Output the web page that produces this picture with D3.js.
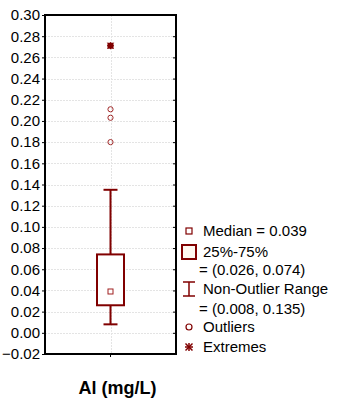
<!DOCTYPE html>
<html><head><meta charset="utf-8">
<script src="https://cdn.jsdelivr.net/npm/d3@7"></script>
<style>body{margin:0;background:#fff}text{font-family:"Liberation Sans",Arial,sans-serif}</style>
</head><body><svg id="c" width="339" height="401"></svg>
<script>
const category = "Al (mg/L)";
const medianVal = [0.039];
const boxRange = [0.026, 0.074];
const whiskerRange = [0.008, 0.135];
const outliers = [0.211, 0.203, 0.180];
const extremes = [0.271];
const yTicks = [-0.02,0,0.02,0.04,0.06,0.08,0.10,0.12,0.14,0.16,0.18,0.20,0.22,0.24,0.26,0.28,0.30];
const legendLines = ["Median = 0.039","25%-75%","= (0.026, 0.074)","Non-Outlier Range","= (0.008, 0.135)","Outliers","Extremes"];

const svg = d3.select("#c");
const L=45, R=176, T=15, B=354;
const col="#800000";
const y = d3.scaleLinear().domain([-0.02,0.30]).range([B,T]);
const x = d3.scaleBand().domain([category]).range([L,R]);
const cx = x(category)+x.bandwidth()/2;

// grid
const g = svg.append("g");
g.selectAll("line.h").data(yTicks).join("line")
 .attr("x1",L).attr("x2",R).attr("y1",d=>Math.round(y(d))+0.5).attr("y2",d=>Math.round(y(d))+0.5)
 .attr("stroke","#e4e4e4").attr("stroke-width",1).attr("stroke-dasharray","2,1");
g.append("line").attr("x1",Math.round(cx)+0.5).attr("x2",Math.round(cx)+0.5).attr("y1",T).attr("y2",B)
 .attr("stroke","#e4e4e4").attr("stroke-dasharray","2,1");

// axes
const ya = svg.append("g").attr("transform",`translate(${L},0)`)
 .call(d3.axisLeft(y).tickValues(yTicks).tickFormat(d3.format(".2f")).tickSize(3).tickPadding(2));
ya.select(".domain").remove();
ya.selectAll("text").attr("font-size",15).attr("fill","#000").attr("font-family","Liberation Sans, Arial, sans-serif");
ya.selectAll("line").attr("stroke","#000");
const yr = svg.append("g").attr("transform",`translate(${R},0)`)
 .call(d3.axisRight(y).tickValues(yTicks).tickFormat("").tickSize(-3));
yr.select(".domain").remove();
yr.selectAll("line").attr("stroke","#000");
const xa = svg.append("g").attr("transform",`translate(0,${B})`)
 .call(d3.axisBottom(x).tickSize(3).tickFormat(""));
xa.select(".domain").remove();
xa.selectAll("line").attr("stroke","#000");
svg.append("rect").attr("x",L).attr("y",T).attr("width",R-L).attr("height",B-T)
 .attr("fill","none").attr("stroke","#000").attr("stroke-width",2);

// box
const bw=27, cw=14;
svg.append("line").attr("x1",cx).attr("x2",cx).attr("y1",y(whiskerRange[1])).attr("y2",y(boxRange[1])).attr("stroke",col).attr("stroke-width",2);
svg.append("line").attr("x1",cx).attr("x2",cx).attr("y1",y(boxRange[0])).attr("y2",y(whiskerRange[0])).attr("stroke",col).attr("stroke-width",2);
svg.selectAll("line.cap").data(whiskerRange).join("line").attr("class","cap")
 .attr("x1",cx-cw/2).attr("x2",cx+cw/2).attr("y1",d=>y(d)).attr("y2",d=>y(d)).attr("stroke",col).attr("stroke-width",2);
svg.append("rect").attr("x",cx-bw/2).attr("y",y(boxRange[1])).attr("width",bw).attr("height",y(boxRange[0])-y(boxRange[1]))
 .attr("fill","#fff").attr("stroke",col).attr("stroke-width",2);
svg.selectAll("rect.med").data(medianVal).join("rect").attr("class","med")
 .attr("x",cx-2.5).attr("y",d=>y(d)-2.5).attr("width",5).attr("height",5).attr("fill","#fff").attr("stroke","#a02020").attr("stroke-width",1);
svg.selectAll("circle.out").data(outliers).join("circle").attr("class","out")
 .attr("cx",cx).attr("cy",d=>y(d)).attr("r",2.6).attr("fill","none").attr("stroke","#a02828").attr("stroke-width",1);
svg.selectAll("g.ext").data(extremes).join("g").attr("class","ext")
 .attr("transform",d=>`translate(${cx},${y(d)})`).each(function(){
   const s=d3.select(this);
   s.append("rect").attr("x",-3).attr("y",-3).attr("width",6).attr("height",6).attr("fill",col);
   [[-3,-3,3,3],[-3,3,3,-3],[0,-3.5,0,3.5],[-3.5,0,3.5,0]].forEach(p=>s.append("line").attr("x1",p[0]).attr("y1",p[1]).attr("x2",p[2]).attr("y2",p[3]).attr("stroke",col).attr("stroke-width",1));
 });

// x label
svg.append("text").attr("x",cx+7).attr("y",394).attr("text-anchor","middle").attr("font-size",18).attr("font-weight","bold").text(category);

// legend
const lx=203, ly=[231,252,270,289,309,327,347];
const lg=svg.append("g");
lg.selectAll("text").data(legendLines).join("text")
 .attr("x",(d,i)=>(i===2||i===4)?lx-4:lx).attr("y",(d,i)=>ly[i]).attr("dy","0.35em").attr("font-size",15).text(d=>d);
const mx=189;
lg.append("rect").attr("x",mx-3).attr("y",ly[0]-3).attr("width",6).attr("height",6).attr("fill","#fff").attr("stroke",col).attr("stroke-width",1.2);
lg.append("rect").attr("x",mx-7).attr("y",ly[1]-7).attr("width",14).attr("height",14).attr("fill","#fff8f0").attr("stroke",col).attr("stroke-width",2);
lg.append("line").attr("x1",mx).attr("x2",mx).attr("y1",ly[3]-7).attr("y2",ly[3]+7).attr("stroke",col).attr("stroke-width",1.5);
lg.append("line").attr("x1",mx-6).attr("x2",mx+6).attr("y1",ly[3]-7).attr("y2",ly[3]-7).attr("stroke",col).attr("stroke-width",1.5);
lg.append("line").attr("x1",mx-6).attr("x2",mx+6).attr("y1",ly[3]+7).attr("y2",ly[3]+7).attr("stroke",col).attr("stroke-width",1.5);
lg.append("circle").attr("cx",mx).attr("cy",ly[5]).attr("r",3).attr("fill","none").attr("stroke",col).attr("stroke-width",1.2);
const eg=lg.append("g").attr("transform",`translate(${mx},${ly[6]})`);
[[-3.5,-3.5,3.5,3.5],[-3.5,3.5,3.5,-3.5],[0,-4,0,4],[-4,0,4,0]].forEach(p=>eg.append("line").attr("x1",p[0]).attr("y1",p[1]).attr("x2",p[2]).attr("y2",p[3]).attr("stroke",col).attr("stroke-width",1.5));
</script></body></html>
